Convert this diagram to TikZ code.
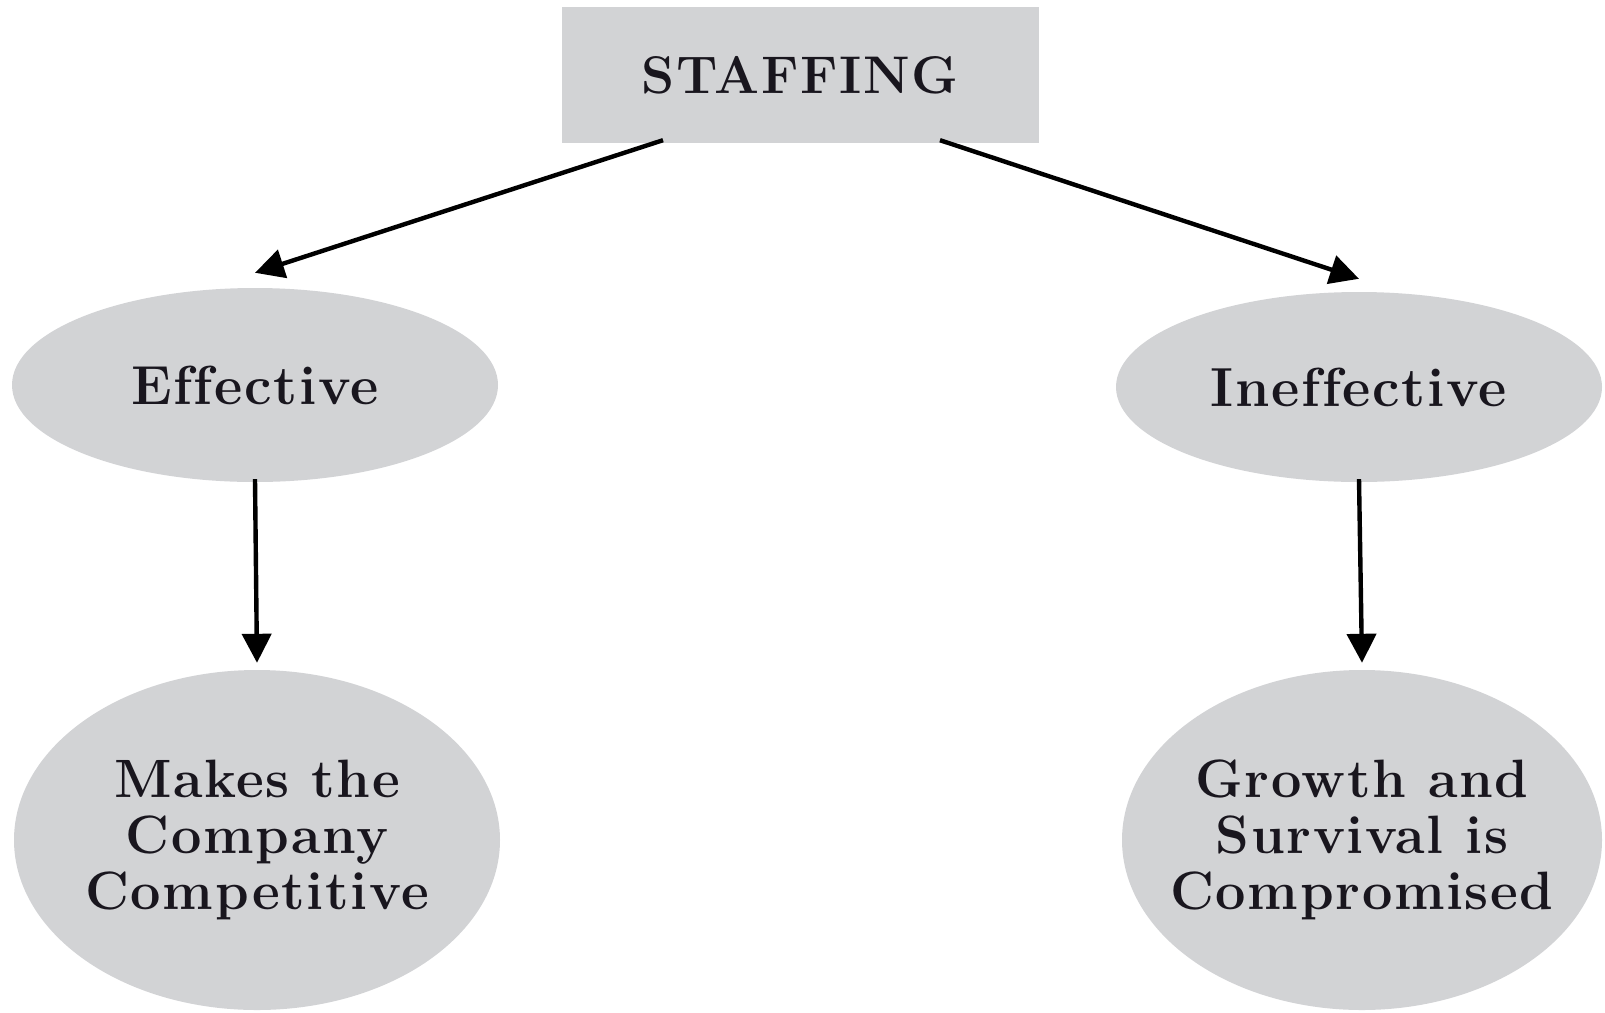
\documentclass[tikz,border=0pt]{standalone}
\usepackage{fontspec}
\setmainfont{Latin Modern Roman}[LetterSpace=3, Ligatures={NoCommon}]
\usetikzlibrary{shapes.geometric,arrows.meta}
\definecolor{boxgray}{RGB}{210,211,213}
\definecolor{inkdark}{RGB}{25,22,30}
\tikzset{
  x=1pt, y=-1pt,
  headbox/.style={fill=boxgray, draw=none, minimum width=477pt, minimum height=136pt,
    inner sep=0pt, text=inkdark, font=\fontsize{53}{53}\selectfont\bfseries},
  oval/.style={ellipse, fill=boxgray, draw=none, inner ysep=0pt, inner xsep=-70pt,
    text=inkdark, align=center, font=\fontsize{55}{56}\selectfont\bfseries},
  arr/.style={line width=4.4pt, -{Triangle[length=29pt,width=29pt]}},
}
\begin{document}
\begin{tikzpicture}
\useasboundingbox (0,0) rectangle (1605,1012);
\node[headbox] (staff) at (800,75) {STAFFING};
\node[oval, minimum width=486pt, minimum height=194pt] (eff) at (255,385) {Effective};
\node[oval, minimum width=486pt, minimum height=190pt] (ineff) at (1359,387) {Ineffective};
\node[oval, minimum width=486pt, minimum height=340pt, font=\fontsize{54}{56}\selectfont\bfseries] (comp) at (257,840) {Makes the\\Company\\Competitive};
\node[oval, minimum width=480pt, minimum height=340pt, font=\fontsize{54}{56}\selectfont\bfseries] (grow) at (1362,840) {Growth and\\Survival is\\Compromised};
\draw[arr] ([xshift=-137pt,yshift=3pt]staff.south) -- ([yshift=15pt]eff.north);
\draw[arr] ([xshift=140pt,yshift=3pt]staff.south) -- ([yshift=13pt]ineff.north);
\draw[arr] ([yshift=3pt]eff.south) -- ([yshift=7pt]comp.north);
\draw[arr] ([yshift=3pt]ineff.south) -- ([yshift=7pt]grow.north);
\end{tikzpicture}
\end{document}
